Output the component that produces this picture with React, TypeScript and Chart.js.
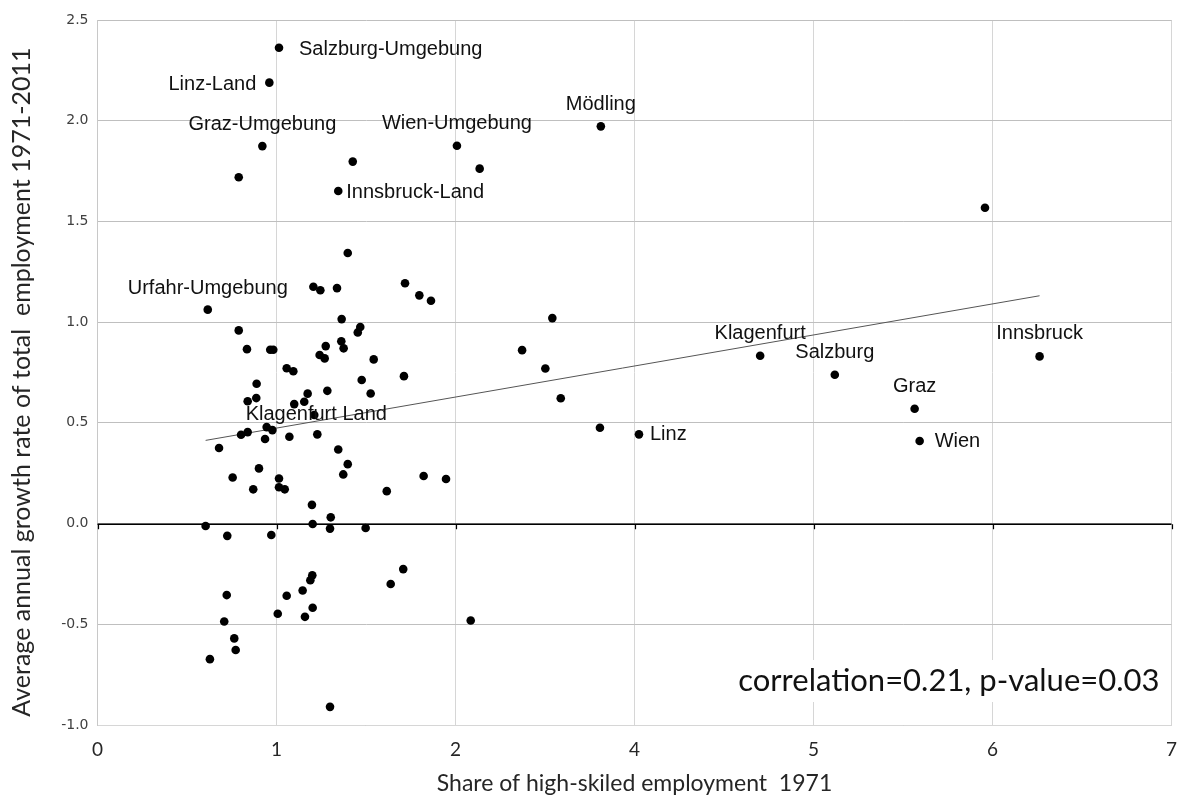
import { useEffect, useRef } from "react";
import { Chart, registerables } from "chart.js";

Chart.register(...registerables);

// Axis tick labels as printed on the original horizontal axis (no "3")
const xTickLabels = ["0", "1", "2", "4", "5", "6", "7"];
const xTitle = "Share of high-skiled employment  1971";
const yTitle = "Average annual growth rate of total  employment 1971-2011   ";
const statsText = "correlation=0.21, p-value=0.03";

// Named districts (x in axis units, y = growth rate)
const namedRegions = [
  "Salzburg-Umgebung",
  "Linz-Land",
  "Graz-Umgebung",
  "Wien-Umgebung",
  "Mödling",
  "Innsbruck-Land",
  "Urfahr-Umgebung",
  "Klagenfurt Land",
  "Klagenfurt",
  "Salzburg",
  "Graz",
  "Wien",
  "Innsbruck",
  "Linz",
];
const namedX = [1.014, 0.96, 0.921, 2.008, 2.812, 1.345, 0.616, 1.211, 3.702, 4.119, 4.565, 4.593, 5.263, 3.025];
const namedY = [2.362, 2.189, 1.874, 1.876, 1.972, 1.651, 1.062, 0.539, 0.833, 0.739, 0.57, 0.41, 0.83, 0.443];

// Other districts
const otherX = [
  1.398, 1.206, 1.245, 1.338, 1.718, 1.798, 1.863, 1.364, 0.789, 1.468,
  1.454, 0.835, 0.965, 0.982, 1.275, 1.362, 1.375, 1.241, 1.269, 1.543,
  1.057, 1.094, 1.712, 0.889, 1.476, 1.284, 1.526, 1.174, 0.887, 0.839,
  1.155, 1.099, 0.945, 0.977, 0.802, 0.839, 1.228, 0.936, 1.072, 0.679,
  1.345, 1.398, 0.902, 0.755, 1.373, 1.822, 1.947, 1.014, 0.87, 1.014,
  1.046, 1.616, 1.198, 1.303, 0.604, 1.202, 1.299, 1.498, 0.725, 0.971,
  1.708, 1.638, 1.2, 1.189, 0.722, 1.057, 1.146, 1.202, 1.007, 1.159,
  2.085, 0.708, 0.764, 0.772, 0.628, 1.299, 0.789, 1.426, 2.135, 4.958,
  2.541, 2.372, 2.502, 2.588, 2.807,
];
const otherY = [
  1.343, 1.176, 1.158, 1.169, 1.193, 1.133, 1.106, 1.015, 0.959, 0.976,
  0.949, 0.866, 0.863, 0.863, 0.881, 0.905, 0.87, 0.837, 0.82, 0.815,
  0.771, 0.756, 0.732, 0.694, 0.713, 0.659, 0.646, 0.645, 0.623, 0.607,
  0.605, 0.593, 0.479, 0.464, 0.441, 0.454, 0.443, 0.42, 0.431, 0.375,
  0.368, 0.295, 0.274, 0.229, 0.244, 0.236, 0.221, 0.224, 0.17, 0.18,
  0.17, 0.161, 0.093, 0.031, -0.012, -0.002, -0.025, -0.022, -0.061, -0.057,
  -0.226, -0.3, -0.257, -0.281, -0.355, -0.358, -0.332, -0.418, -0.448, -0.463,
  -0.481, -0.486, -0.57, -0.628, -0.673, -0.91, 1.719, 1.797, 1.762, 1.568,
  1.02, 0.861, 0.77, 0.622, 0.476,
];

// Trend line end points
const trendX = [0.604, 5.263];
const trendY = [0.413, 1.131];

// Label placement styles
const labelStyle: Record<string, { align: CanvasTextAlign; dx: number; dy: number }> = {
  "Salzburg-Umgebung": { align: "left", dx: 20, dy: 2 },
  "Linz-Land": { align: "right", dx: -13, dy: 1.5 },
  "Graz-Umgebung": { align: "center", dx: 0, dy: -22 },
  "Wien-Umgebung": { align: "center", dx: 0, dy: -22 },
  "Mödling": { align: "center", dx: 0, dy: -22 },
  "Innsbruck-Land": { align: "left", dx: 8, dy: 1 },
  "Urfahr-Umgebung": { align: "center", dx: 0, dy: -21 },
  "Klagenfurt Land": { align: "center", dx: 2, dy: -1 },
  "Klagenfurt": { align: "center", dx: 0, dy: -22.5 },
  "Salzburg": { align: "center", dx: 0, dy: -22 },
  "Graz": { align: "center", dx: 0, dy: -22 },
  "Innsbruck": { align: "center", dx: 0, dy: -23 },
  "Linz": { align: "left", dx: 11, dy: 0 },
  "Wien": { align: "left", dx: 15, dy: 0 },
};

const zeroLinePlugin = {
  id: "zeroLine",
  beforeDatasetsDraw(chart: any) {
    const { ctx, chartArea, scales } = chart;
    const y0 = Math.round(scales.y.getPixelForValue(0)) + 0.25;
    ctx.save();
    ctx.strokeStyle = "#000";
    ctx.lineWidth = 1.5;
    ctx.beginPath();
    ctx.moveTo(chartArea.left, y0);
    ctx.lineTo(chartArea.right, y0);
    ctx.stroke();
    ctx.lineWidth = 1.2;
    for (let i = 0; i < xTickLabels.length; i++) {
      const px = Math.round(scales.x.getPixelForValue(i)) + 0.5;
      ctx.beginPath();
      ctx.moveTo(px, y0);
      ctx.lineTo(px, y0 + 5);
      ctx.stroke();
    }
    ctx.restore();
  },
};

const labelPlugin = {
  id: "pointLabels",
  afterDatasetsDraw(chart: any) {
    const { ctx, chartArea, scales } = chart;
    ctx.save();
    ctx.font = '20px "Liberation Sans", Arial, sans-serif';
    ctx.fillStyle = "#111";
    ctx.textBaseline = "middle";
    namedRegions.forEach((name, i) => {
      const st = labelStyle[name];
      const px = scales.x.getPixelForValue(namedX[i]);
      const py = scales.y.getPixelForValue(namedY[i]);
      ctx.textAlign = st.align;
      ctx.fillText(name, px + st.dx, py + st.dy);
    });
    // statistics box
    ctx.font = '31px Lato, "Open Sans", sans-serif';
    ctx.textAlign = "right";
    const w = ctx.measureText(statsText).width;
    const tx = chartArea.right - 12;
    const ty = chartArea.bottom - 44;
    ctx.fillStyle = "#fff";
    ctx.fillRect(tx - w - 6, ty - 21, w + 12, 42);
    ctx.fillStyle = "#111";
    ctx.fillText(statsText, tx, ty);
    ctx.restore();
  },
};

export default function App() {
  const ref = useRef<HTMLCanvasElement>(null);
  useEffect(() => {
    document.body.style.margin = "0";
    document.body.style.overflow = "hidden";
    const canvas = ref.current!;
    const points = otherX
      .map((x, i) => ({ x, y: otherY[i] }))
      .concat(namedX.map((x, i) => ({ x, y: namedY[i] })));
    const trend = trendX.map((x, i) => ({ x, y: trendY[i] }));
    const chart = new Chart(canvas, {
      type: "scatter",
      data: {
        datasets: [
          {
            data: points,
            backgroundColor: "#000",
            borderWidth: 0,
            pointRadius: 4.3,
          },
          {
            type: "line",
            data: trend,
            borderColor: "#555",
            borderWidth: 1,
            pointRadius: 0,
            fill: false,
            showLine: true,
          } as any,
        ],
      },
      options: {
        animation: false,
        responsive: false,
        devicePixelRatio: 1,
        layout: { padding: { left: 0, right: 8.5, top: 20, bottom: 0 } },
        plugins: { legend: { display: false }, tooltip: { enabled: false } },
        scales: {
          x: {
            type: "linear",
            min: 0,
            max: 6,
            ticks: {
              stepSize: 1,
              autoSkip: false,
              maxRotation: 0,
              padding: 13,
              color: "#262626",
              font: { family: "Lato", size: 19 },
              callback: (v: any) => xTickLabels[Number(v)] ?? "",
            },
            grid: { color: "#d6d6d6", drawTicks: false, lineWidth: 1 },
            border: { color: "#d6d6d6" },
            title: {
              display: true,
              text: xTitle,
              color: "#262626",
              font: { family: "Lato", size: 23, lineHeight: 1.1 },
              padding: { top: 0, bottom: 0 },
            },
            afterFit: (s: any) => {
              s.height = 71;
              s.paddingLeft = 0;
              s.paddingRight = 0;
            },
          },
          y: {
            min: -1,
            max: 2.5,
            ticks: {
              stepSize: 0.5,
              padding: 9,
              color: "#404040",
              font: { family: "DejaVu Sans", size: 14 },
              callback: (v: any) => Number(v).toFixed(1),
            },
            grid: { color: "#bfbfbf", drawTicks: false, lineWidth: 1 },
            border: { color: "#c8c8c8" },
            title: {
              display: true,
              text: yTitle,
              color: "#262626",
              font: { family: "Lato", size: 25, lineHeight: 1.1 },
              padding: { top: 8, bottom: 0 },
            },
            afterFit: (s: any) => {
              s.width = 97.5;
              s.paddingTop = 0;
              s.paddingBottom = 0;
            },
          },
        },
      },
      plugins: [zeroLinePlugin, labelPlugin],
    } as any);
    return () => chart.destroy();
  }, []);
  return (
    <div style={{ width: 1180, height: 796, position: "relative" }}>
      <canvas ref={ref} width={1180} height={796} style={{ display: "block" }} />
    </div>
  );
}
